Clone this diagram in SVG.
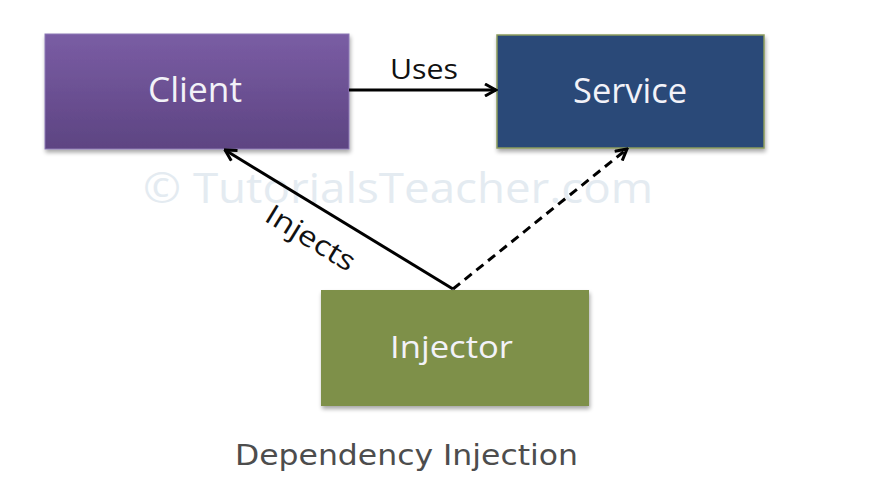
<svg xmlns="http://www.w3.org/2000/svg" width="876" height="483" viewBox="0 0 876 483">
<style>
.lbl{font-family:"Open Sans","Liberation Sans",sans-serif;fill:#f2f2f8;text-anchor:start}
.edge{stroke:#000;stroke-width:3;fill:none}
.elbl{font-family:"Open Sans","Liberation Sans",sans-serif;fill:#111;font-size:28px}
</style>
<defs>
<linearGradient id="gClient" x1="0" y1="0" x2="0" y2="1">
<stop offset="0" stop-color="#7a5da4"/>
<stop offset="1" stop-color="#5d4482"/>
</linearGradient>
<filter id="sh" x="-10%" y="-10%" width="130%" height="140%">
<feGaussianBlur in="SourceAlpha" stdDeviation="2"/>
<feOffset dx="1" dy="3" result="b"/>
<feComponentTransfer><feFuncA type="linear" slope="0.35"/></feComponentTransfer>
<feMerge><feMergeNode/><feMergeNode in="SourceGraphic"/></feMerge>
</filter>
<marker id="arr" viewBox="0 0 14 14" refX="12.5" refY="7" markerWidth="14" markerHeight="14" markerUnits="userSpaceOnUse" orient="auto">
<path d="M1.5,1 L12.5,7 L1.5,13" fill="none" stroke="#000" stroke-width="3"/>
</marker>
</defs>
<rect width="876" height="483" fill="#fff"/>
<text x="143" y="203" font-family="Open Sans, Liberation Sans, sans-serif" font-size="42" fill="#e4ebf1" textLength="510" lengthAdjust="spacingAndGlyphs">© TutorialsTeacher.com</text>
<g id="client">
<rect x="45" y="34" width="304" height="115" fill="url(#gClient)" stroke="#8c78b5" stroke-width="1" filter="url(#sh)"/>
<text class="lbl" x="148" y="102" font-size="34" textLength="94" lengthAdjust="spacingAndGlyphs">Client</text>
</g>
<g id="service">
<rect x="497" y="35" width="267" height="113" fill="#294a78" stroke="#8b9a5c" stroke-width="1.5" filter="url(#sh)"/>
<text class="lbl" x="573" y="103" font-size="34" textLength="114" lengthAdjust="spacingAndGlyphs">Service</text>
</g>
<g id="injector">
<rect x="321" y="290" width="268" height="116" fill="#7e9049" filter="url(#sh)"/>
<text class="lbl" x="390" y="358" font-size="31" textLength="123" lengthAdjust="spacingAndGlyphs">Injector</text>
</g>
<g id="connectors">
<line class="edge" x1="349" y1="90" x2="496" y2="90" marker-end="url(#arr)"/>
<text class="elbl" x="390" y="79" textLength="68" lengthAdjust="spacingAndGlyphs">Uses</text>
<line class="edge" x1="453" y1="289" x2="225" y2="150" marker-end="url(#arr)"/>
<text class="elbl" transform="translate(263,220) rotate(31.6)" textLength="100" lengthAdjust="spacingAndGlyphs">Injects</text>
<line class="edge" x1="453" y1="289" x2="627" y2="149" stroke-dasharray="9,6" marker-end="url(#arr)"/>
</g>
<text x="235" y="465" font-family="DejaVu Sans, Verdana, sans-serif" font-size="28" fill="#4d4d4d" textLength="343" lengthAdjust="spacingAndGlyphs">Dependency Injection</text>
</svg>
